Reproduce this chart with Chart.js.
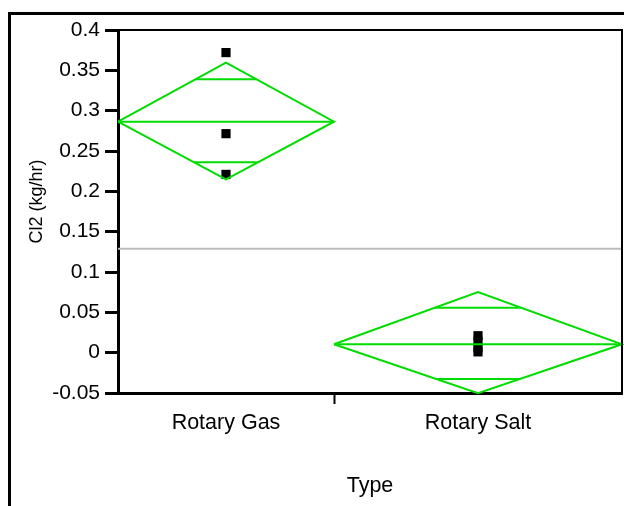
<!DOCTYPE html>
<html>
<head>
<meta charset="utf-8">
<script src="https://cdn.jsdelivr.net/npm/chart.js@4"></script>
<style>
  body { margin: 0; background: #fff; }
  #wrap { position: relative; width: 624px; height: 506px; }
  #frame { position: absolute; left: 8px; top: 12px; width: 616px; height: 494px;
           border-left: 3px solid #000; border-top: 3px solid #000; box-sizing: border-box; }
  canvas { position: absolute; left: 0; top: 0; }
</style>
</head>
<body>
<div id="wrap">
  <div id="frame"></div>
  <canvas id="chart" width="624" height="506"></canvas>
</div>
<script>
// groups and sample sizes (widths of the groups follow n)
const categories = ["Rotary Gas", "Rotary Salt"];
const counts = [3, 4];

// means diamonds: mean, 95% CI, overlap marks
const means = [0.2864, 0.0104];
const ciUpper = [0.3595, 0.0752];
const ciLower = [0.2149, -0.0503];
const overlapUpper = [0.339, 0.0558];
const overlapLower = [0.236, -0.0326];

// raw observations
const gasValues = [0.372, 0.2715, 0.221];
const saltValues = [0.021, 0.014, 0.006, 0.001];
const grandMean = 0.1287;

const yTickValues = [-0.05, 0, 0.05, 0.1, 0.15, 0.2, 0.25, 0.3, 0.35, 0.4];

const green = "rgb(0,220,0)";
const total = counts.reduce((a, b) => a + b, 0);

const starts = [];
let acc = 0;
counts.forEach((n) => { starts.push(acc); acc += n; });
const centers = starts.map((s, i) => s + counts[i] / 2);

const datasets = [];

// grand mean line
datasets.push({
    data: [{ x: 0, y: grandMean }, { x: total, y: grandMean }],
    showLine: true, borderColor: "#bdbdbd", borderWidth: 2, pointRadius: 0,
});

categories.forEach((cat, i) => {
    const x0 = starts[i], x1 = starts[i] + counts[i], xc = centers[i];
    const half = counts[i] / 2;
    const lineStyle = { showLine: true, borderColor: green, borderWidth: 2, pointRadius: 0, clip: false };

    datasets.push(Object.assign({
        data: [
            { x: x0, y: means[i] }, { x: xc, y: ciUpper[i] }, { x: x1, y: means[i] },
            { x: xc, y: ciLower[i] }, { x: x0, y: means[i] },
        ],
    }, lineStyle));
    datasets.push(Object.assign({ data: [{ x: x0, y: means[i] }, { x: x1, y: means[i] }] }, lineStyle));

    [[overlapUpper[i], ciUpper[i]], [overlapLower[i], ciLower[i]]].forEach(([ov, ci]) => {
        const w = half * (1 - (ov - means[i]) / (ci - means[i]));
        datasets.push(Object.assign({ data: [{ x: xc - w, y: ov }, { x: xc + w, y: ov }] }, lineStyle));
    });
});

// points
datasets.push({
    data: gasValues.map((v) => ({ x: centers[0], y: v })),
    pointStyle: "rect", pointRadius: 6.5, backgroundColor: "#000", borderColor: "#000", borderWidth: 0,
});
datasets.push({
    data: saltValues.map((v) => ({ x: centers[1], y: v })),
    pointStyle: "rect", pointRadius: 6.5, backgroundColor: "#000", borderColor: "#000", borderWidth: 0,
});

const frameLines = {
    id: "frameLines",
    afterDraw(chart) {
        const { ctx, chartArea: a } = chart;
        ctx.save();
        ctx.strokeStyle = "#000";
        ctx.lineWidth = 2;
        ctx.beginPath();
        ctx.moveTo(a.left, a.top);
        ctx.lineTo(a.right, a.top);
        ctx.lineTo(a.right, a.bottom);
        ctx.stroke();
        ctx.restore();
    },
};

const family = "'Liberation Sans', Arial, sans-serif";

new Chart(document.getElementById("chart"), {
    type: "scatter",
    data: { datasets: datasets },
    options: {
        responsive: false,
        animation: false,
        layout: { autoPadding: false, padding: { top: 30, right: 2, left: 0, bottom: 0 } },
        plugins: { legend: { display: false }, tooltip: { enabled: false } },
        scales: {
            x: {
                type: "linear",
                min: 0,
                max: total,
                afterBuildTicks: (scale) => {
                    scale.ticks = [{ value: centers[0] }, { value: starts[1] }, { value: centers[1] }];
                },
                afterFit: (scale) => { scale.height = 113; },
                ticks: {
                    font: { family: family, size: 21.5 },
                    color: "#000",
                    padding: 6,
                    maxRotation: 0,
                    autoSkip: false,
                    callback: (v) => {
                        const i = centers.indexOf(v);
                        return i >= 0 ? categories[i] : "";
                    },
                },
                grid: {
                    drawOnChartArea: false,
                    tickLength: 11,
                    tickWidth: 2,
                    tickColor: (ctx) => (ctx.tick && ctx.tick.value === starts[1] ? "#000" : "rgba(0,0,0,0)"),
                },
                border: { color: "#000", width: 3 },
                title: {
                    display: true,
                    text: "Type",
                    color: "#000",
                    font: { family: family, size: 21.5 },
                    padding: { top: 0, bottom: 7 },
                },
            },
            y: {
                min: -0.05,
                max: 0.4,
                afterBuildTicks: (scale) => {
                    scale.ticks = yTickValues.map((v) => ({ value: v }));
                },
                afterFit: (scale) => { scale.width = 118; },
                ticks: {
                    font: { family: family, size: 21 },
                    color: "#000",
                    padding: 5,
                    callback: (v) => String(Number(v.toFixed(2))),
                },
                grid: { drawOnChartArea: false, tickLength: 13, tickWidth: 3, tickColor: "#000" },
                border: { color: "#000", width: 3 },
                title: {
                    display: true,
                    text: "    Cl2 (kg/hr)",
                    color: "#000",
                    font: { family: family, size: 18 },
                    padding: { top: 26, bottom: 0 },
                },
            },
        },
    },
    plugins: [frameLines],
});
</script>
</body>
</html>
